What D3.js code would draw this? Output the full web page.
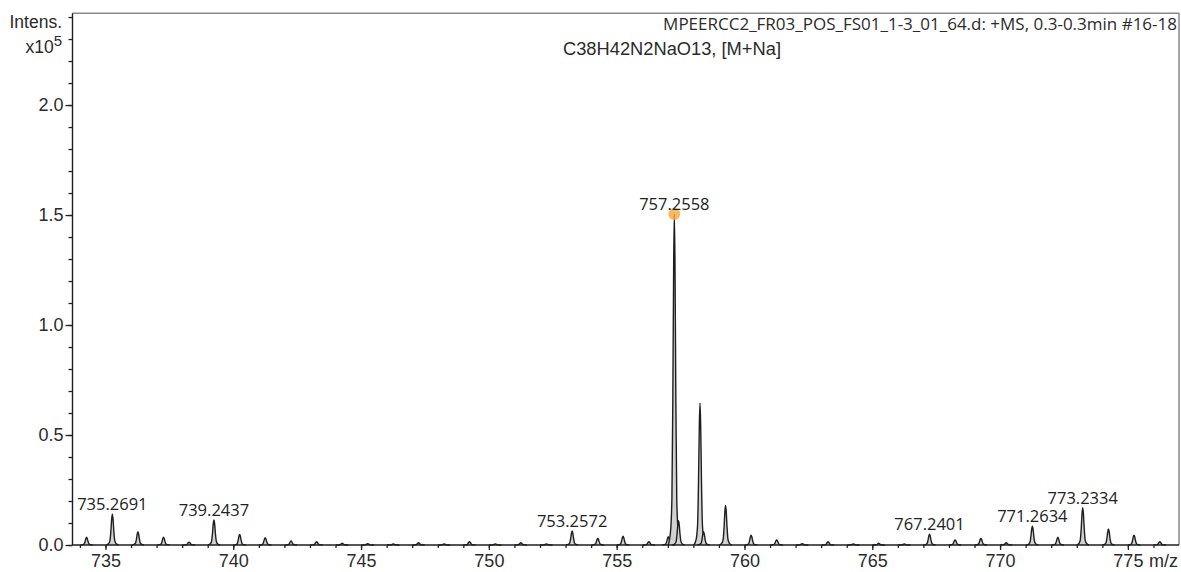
<!DOCTYPE html>
<html>
<head>
<meta charset="utf-8">
<script src="https://cdn.jsdelivr.net/npm/d3@7"></script>
<style>
  body { margin: 0; background: #fff; }
  svg { display: block; }
</style>
</head>
<body>
<svg id="chart" width="1181" height="572"></svg>
<script>
// Mass spectrum peaks: m/z and intensity (x10^5)
const peakMz = [
  734.26, 735.2691, 736.27, 737.27, 738.27, 739.2437, 740.25, 741.25, 742.26, 743.26,
  744.26, 745.26, 746.26, 747.25, 748.25, 749.24, 750.25, 751.25, 752.25, 753.2572,
  754.26, 755.25, 756.26, 757.02, 757.2558, 757.42, 758.26, 758.40, 759.26, 760.26,
  761.26, 762.26, 763.27, 764.26, 765.25, 766.25, 767.2401, 768.24, 769.25, 770.24,
  771.2634, 772.26, 773.2334, 774.24, 775.24, 776.25
];
const peakIntensity = [
  0.035, 0.140, 0.060, 0.035, 0.013, 0.114, 0.048, 0.033, 0.018, 0.015,
  0.008, 0.006, 0.005, 0.010, 0.005, 0.015, 0.005, 0.010, 0.005, 0.064,
  0.030, 0.040, 0.015, 0.038, 1.505, 0.110, 0.645, 0.060, 0.180, 0.045,
  0.023, 0.006, 0.015, 0.005, 0.008, 0.005, 0.049, 0.023, 0.030, 0.010,
  0.086, 0.035, 0.170, 0.073, 0.045, 0.015
];

// Peaks annotated with their m/z
const labelledMz = [735.2691, 739.2437, 753.2572, 757.2558, 767.2401, 771.2634, 773.2334];
// Highlighted (most intense) peak
const markedMz = 757.2558;

// Axis ticks
const xMajorTicks = [735, 740, 745, 750, 755, 760, 765, 770, 775];
const xMinorTicks = d3.range(734, 777, 1);
const yMajorTicks = [0.0, 0.5, 1.0, 1.5, 2.0];
const yMinorTicks = d3.range(0, 25, 1).map(i => i / 10);

const fileTitle = "MPEERCC2_FR03_POS_FS01_1-3_01_64.d: +MS, 0.3-0.3min #16-18";
const compoundTitle = "C38H42N2NaO13, [M+Na]";

// Profile of a single centroid: offset in m/z, fraction of peak height
const peakShape = [
  [-0.24, 0], [-0.15, 0.04], [-0.095, 0.14], [-0.058, 0.45], [-0.026, 0.85], [0, 1],
  [0.026, 0.85], [0.058, 0.45], [0.095, 0.14], [0.15, 0.04], [0.24, 0]
];

const svg = d3.select("#chart");
const plotLeft = 72.5, plotRight = 1179, plotTop = 13.3, plotBottom = 545;

const x = d3.scaleLinear().domain([733.71, 777.0]).range([plotLeft, plotRight]);
const y = d3.scaleLinear().domain([0, 2.417]).range([plotBottom, plotTop]);

const sans = "'Liberation Sans', Arial, sans-serif";
const labelFont = "'Open Sans', 'Noto Sans', sans-serif";

// Frame (top and right edges)
svg.append("path")
  .attr("d", `M${plotLeft},${plotTop}H${plotRight}V${plotBottom}`)
  .attr("fill", "none")
  .attr("stroke", "#8a8a8a")
  .attr("stroke-width", 1.5);

// Peaks
const peaks = peakMz.map((mz, i) => ({ mz, h: peakIntensity[i] }));
const area = d3.area()
  .x(d => x(d[0]))
  .y0(y(0))
  .y1(d => y(d[1]))
  .curve(d3.curveMonotoneX);
const line = d3.line()
  .x(d => x(d[0]))
  .y(d => y(d[1]))
  .curve(d3.curveMonotoneX);

const peakG = svg.append("g");
peaks.forEach(p => {
  const pts = peakShape.map(([o, f]) => [p.mz + o, p.h * f]);
  peakG.append("path").attr("d", area(pts)).attr("fill", "#d2d2d2");
  peakG.append("path").attr("d", line(pts))
    .attr("fill", "none").attr("stroke", "#1e1e1e").attr("stroke-width", 1.4)
    .attr("stroke-linejoin", "round");
});

// X axis
const xAxisG = svg.append("g").attr("transform", `translate(0,${plotBottom})`);
xAxisG.append("g")
  .call(d3.axisBottom(x).tickValues(xMinorTicks).tickSize(3).tickFormat(""))
  .call(g => g.select(".domain").remove());
xAxisG.append("g")
  .call(d3.axisBottom(x).tickValues(xMajorTicks).tickSize(5).tickPadding(4).tickFormat(d3.format("d")))
  .call(g => g.select(".domain").remove())
  .call(g => g.selectAll("text").attr("font-family", sans).attr("font-size", 18).attr("fill", "#2b2b2b"));
xAxisG.selectAll("line").attr("stroke", "#222").attr("stroke-width", 1.3);
xAxisG.append("line").attr("x1", plotLeft).attr("x2", plotRight).attr("stroke", "#1e1e1e").attr("stroke-width", 1.4);
svg.append("text")
  .attr("x", plotRight - 1).attr("y", 567)
  .attr("text-anchor", "end")
  .attr("font-family", sans).attr("font-size", 18).attr("fill", "#2b2b2b")
  .text("m/z");

// Y axis
const yAxisG = svg.append("g").attr("transform", `translate(${plotLeft},0)`);
yAxisG.append("g")
  .call(d3.axisLeft(y).tickValues(yMinorTicks).tickSize(4).tickFormat(""))
  .call(g => g.select(".domain").remove());
yAxisG.append("g")
  .call(d3.axisLeft(y).tickValues(yMajorTicks).tickSize(7).tickPadding(2).tickFormat(d3.format(".1f")))
  .call(g => g.select(".domain").remove())
  .call(g => g.selectAll("text").attr("font-family", sans).attr("font-size", 18).attr("fill", "#2b2b2b"));
yAxisG.selectAll("line").attr("stroke", "#222").attr("stroke-width", 1.3);
yAxisG.append("line").attr("y1", plotTop).attr("y2", plotBottom).attr("stroke", "#1e1e1e").attr("stroke-width", 1.4);

// Intensity unit label
svg.append("text")
  .attr("x", 62).attr("y", 28).attr("text-anchor", "end")
  .attr("font-family", sans).attr("font-size", 17.5).attr("fill", "#2b2b2b")
  .text("Intens.");
const unit = svg.append("text")
  .attr("x", 62).attr("y", 53).attr("text-anchor", "end")
  .attr("font-family", sans).attr("font-size", 17.5).attr("fill", "#2b2b2b");
unit.append("tspan").text("x10");
unit.append("tspan").attr("dy", -7).attr("font-size", 15).text("5");

// Titles
svg.append("text")
  .attr("x", 1177).attr("y", 30).attr("text-anchor", "end")
  .attr("font-family", labelFont).attr("font-size", 17).attr("fill", "#2b2b2b")
  .text(fileTitle);
svg.append("text")
  .attr("x", 563).attr("y", 55)
  .attr("font-family", sans).attr("font-size", 18.3).attr("fill", "#2b2b2b")
  .text(compoundTitle);

// Highlight on the base peak
const marked = peaks.find(p => p.mz === markedMz);
svg.append("circle")
  .attr("cx", x(marked.mz)).attr("cy", y(marked.h)).attr("r", 6)
  .attr("fill", "#f5a93a").attr("fill-opacity", 0.8);

// Peak m/z annotations
svg.append("g").selectAll("text")
  .data(peaks.filter(p => labelledMz.includes(p.mz)))
  .join("text")
  .attr("x", d => x(d.mz))
  .attr("y", d => y(d.h) - 4)
  .attr("text-anchor", "middle")
  .attr("font-family", labelFont).attr("font-size", 16.5).attr("fill", "#222")
  .text(d => d.mz.toFixed(4));
</script>
</body>
</html>
